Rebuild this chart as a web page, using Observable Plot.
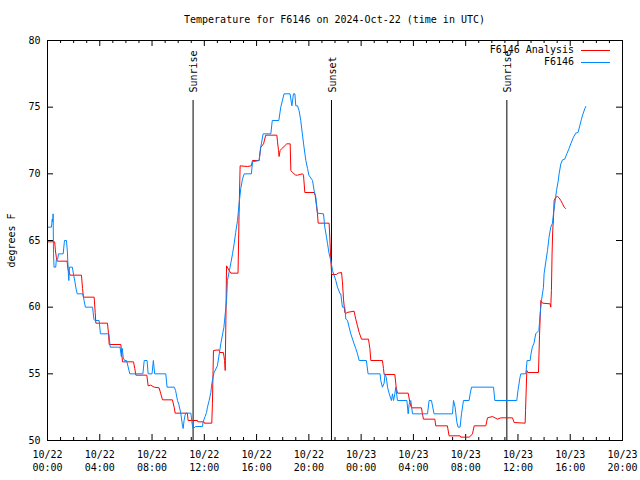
<!DOCTYPE html>
<html>
<head>
<meta charset="utf-8">
<script src="https://cdn.jsdelivr.net/npm/d3@7"></script>
<script src="https://cdn.jsdelivr.net/npm/@observablehq/plot@0.6"></script>
<style>
  body { margin: 0; background: white; }
  #wrap { position: relative; width: 640px; height: 480px; background: white; font-family: "DejaVu Sans Mono", monospace; }
  #title { height: 34px; margin-left: 47px; width: 575px; text-align: center; font-size: 10px; line-height: 12px; padding-top: 0; box-sizing: border-box; }
  #title span { position: relative; top: 14px; }
  #wrap svg { display: block; }
  .lg-text { position: absolute; right: 66px; font-size: 10px; line-height: 12px; white-space: pre; }
  .lg-line { position: absolute; left: 581px; width: 29px; height: 0; }
</style>
</head>
<body>
<div id="wrap">
  <div id="title"><span>Temperature for F6146 on 2024-Oct-22 (time in UTC)</span></div>
</div>
<script>
// ---- data (hours since 2024-10-22 00:00 UTC) ----
const obsHours = [0,0.3,0.36,0.4,0.43,0.46,0.5,0.63,0.68,0.78,0.84,1.2,1.3,1.45,1.52,1.58,1.63,1.68,1.9,2.0,2.1,2.2,2.28,2.7,2.8,2.9,3.45,3.55,3.62,3.95,4.05,4.7,4.8,5.55,5.65,5.72,5.8,5.9,6.05,6.3,7.3,7.4,7.62,7.7,8.0,8.1,8.2,9.05,9.15,9.7,9.8,9.95,10.05,10.2,10.33,10.38,10.45,10.53,10.58,10.97,11.05,11.1,11.14,11.35,11.86,11.91,12.06,12.17,12.24,12.37,12.5,12.57,12.67,12.75,13.0,13.26,13.5,13.7,13.77,13.97,14.16,14.28,14.4,14.54,14.66,14.79,14.92,15.05,15.6,15.69,16.2,16.3,16.5,17.09,17.2,17.7,17.85,18.1,18.56,18.7,18.82,18.93,19.0,19.13,19.25,19.38,19.5,19.63,19.77,19.9,20.0,20.28,20.4,20.53,20.66,21.12,21.22,21.35,21.43,21.55,21.68,21.81,21.93,22.06,22.19,22.39,22.44,22.57,22.75,22.83,22.96,23.08,23.21,23.46,23.59,23.72,23.85,24.4,24.53,25.45,25.5,25.63,25.76,25.83,25.93,26.02,26.15,26.32,26.4,26.48,26.58,26.65,26.78,27.5,27.6,27.67,27.8,27.93,29.08,29.2,29.38,29.58,30.99,31.07,31.19,31.32,31.42,31.57,31.68,31.83,32.26,32.34,32.45,34.13,34.23,35.91,36.0,36.16,36.22,36.6,36.7,36.93,37.0,37.1,37.23,37.36,37.6,37.7,37.8,37.95,38.0,38.13,38.26,38.38,38.51,38.64,38.72,38.82,38.95,39.07,39.15,39.28,39.41,39.58,39.74,39.91,40.04,40.25,40.42,40.6,40.73,40.86,40.98,41.12,41.19];
const obsTemp = [66.0,66.0,66.6,66.4,67.0,64.0,63.0,63.0,63.6,63.6,64.0,64.0,65.0,65.0,64.2,62.8,62.0,63.0,63.0,62.4,61.9,61.3,61.0,61.0,60.5,60.0,60.0,59.1,59.0,59.0,58.0,58.0,57.0,57.0,56.3,56.9,56.2,56.0,56.0,55.0,55.0,56.0,56.0,55.0,55.0,56.0,55.0,55.0,54.0,54.0,53.75,53.0,52.7,52.05,51.1,50.9,51.5,51.9,52.05,52.05,51.4,51.05,50.9,51.05,51.05,51.4,51.8,52.1,52.5,53.0,53.6,54.25,54.75,55.1,55.6,57.25,58.5,60.5,62.0,63.0,64.0,64.75,65.6,66.5,67.75,68.9,69.6,70.0,70.0,70.9,71.0,71.9,73.0,73.0,74.0,74.0,75.0,76.0,76.0,75.1,76.0,76.0,75.1,75.1,74.75,74.0,73.0,72.0,71.0,70.4,69.9,69.5,68.75,68.25,67.05,67.0,66.0,65.25,64.75,64.0,63.5,62.75,62.4,62.0,61.5,61.0,61.0,60.0,60.0,59.1,59.0,58.5,58.0,57.25,56.9,56.5,56.0,56.0,55.0,55.0,54.5,54.0,54.3,55.0,54.7,54.0,53.5,53.0,53.5,53.0,53.5,54.0,53.0,53.0,52.0,52.7,53.0,52.0,52.0,53.0,53.0,52.0,52.0,53.0,52.5,51.4,51.0,51.0,52.0,53.0,53.0,53.5,54.0,54.0,53.0,53.0,53.75,54.75,55.0,55.0,56.0,56.0,56.5,57.0,57.3,58.0,58.25,59.5,60.5,61.5,62.5,63.4,64.25,65.25,66.0,66.3,67.05,67.75,68.75,69.4,70.0,70.75,71.05,71.1,71.5,71.9,72.25,72.75,73.05,73.1,73.6,74.1,74.5,74.9,75.05];

const anaHours = [0,0.55,0.6,0.68,0.75,1.5,1.56,1.66,1.73,2.6,2.68,2.75,3.57,3.65,3.7,4.59,4.67,4.72,5.61,5.74,6.58,6.68,6.76,7.6,7.7,7.9,8.16,8.54,8.67,8.8,9.56,9.69,9.77,10.7,10.76,11.48,11.5,11.98,12.0,12.57,12.62,12.67,12.7,13.1,13.2,13.46,13.55,13.6,13.65,13.7,13.9,14.03,14.58,14.66,14.74,15.3,15.6,15.69,16.19,16.32,16.53,16.7,17.55,17.6,17.68,17.72,17.8,17.93,18.1,18.31,18.57,18.62,18.75,19.0,19.13,19.51,19.59,19.69,20.4,20.48,20.66,20.71,21.55,21.6,21.68,21.75,22.1,22.24,22.5,22.57,22.65,22.75,22.83,22.9,23.46,23.59,23.72,23.85,24.03,24.56,24.67,24.74,25.63,25.71,25.76,26.58,26.68,26.78,27.6,27.72,27.85,28.62,28.69,28.77,29.64,29.71,30.6,30.73,31.57,31.63,32.26,32.39,32.52,32.65,33.54,33.67,34.05,34.43,34.69,35.58,35.71,36.55,36.58,36.68,36.75,37.57,37.65,37.75,37.88,38.46,38.51,38.56,38.61,38.66,38.72,38.77,38.9,39.03,39.15,39.28,39.41,39.54,39.64];
const anaTemp = [64.9,64.9,64.3,63.7,63.45,63.45,62.9,62.6,62.4,62.4,61.4,60.75,60.75,59.6,58.8,58.8,58.0,57.2,57.2,55.9,55.9,55.4,54.9,54.9,54.1,54.15,54.0,53.95,53.5,53.05,53.05,52.5,52.05,52.05,51.5,51.5,51.4,51.4,51.3,51.3,52.75,55.25,56.75,56.8,56.6,56.6,56.0,55.25,59.0,63.1,62.75,62.55,62.55,67.1,70.6,70.55,70.6,71.0,71.0,72.0,72.25,72.9,72.9,72.4,71.75,71.3,71.75,71.9,72.05,72.25,72.25,70.25,70.1,69.9,69.9,70.0,69.9,68.6,68.6,68.4,67.0,66.3,66.3,65.25,63.5,62.45,62.45,62.55,62.6,61.9,60.6,59.6,59.5,59.6,59.7,59.1,58.6,58.1,57.6,57.6,56.9,56.0,56.0,55.4,54.95,54.95,54.0,53.55,53.55,52.9,52.45,52.45,52.0,51.6,51.6,51.1,51.1,50.35,50.35,50.25,50.25,50.35,50.5,51.1,51.1,51.7,51.8,51.6,51.7,51.7,51.35,51.3,52.25,55.25,55.1,55.1,57.9,60.5,60.3,60.25,60.0,61.25,64.0,65.75,66.7,68.0,68.25,68.3,68.2,68.0,67.75,67.5,67.4];

const sunHours = [11.14, 21.73, 35.15];
const sunLabels = ["Sunrise", "Sunset", "Sunrise"];

const xTickHours = [0, 4, 8, 12, 16, 20, 24, 28, 32, 36, 40, 44];
const xMinorHours = d3.range(0, 45).filter(h => h % 4 !== 0);
const yTicks = [50, 55, 60, 65, 70, 75, 80];

const seriesNames = ["F6146 Analysis", "F6146"];
const seriesColors = ["#ff0000", "#0088ff"];

// ---- build ----
const start = Date.UTC(2024, 9, 22);
const T = h => new Date(start + h * 3600e3);
const obs = obsHours.map((h, i) => ({t: T(h), v: obsTemp[i]}));
const ana = anaHours.map((h, i) => ({t: T(h), v: anaTemp[i]}));
const sun = sunHours.map((h, i) => ({t: T(h), label: sunLabels[i]}));
const xTicks = xTickHours.map(T);
const xMinor = xMinorHours.map(T);

const innerW = 640 - 47 - 18;
const innerH = 446 - 6 - 40;

const chart = Plot.plot({
  width: 640,
  height: 446,
  marginTop: 6,
  marginBottom: 40,
  marginLeft: 47,
  marginRight: 18,
  style: {fontFamily: "DejaVu Sans Mono", fontSize: "10px", background: "white", color: "black"},
  x: {type: "utc", domain: [T(0), T(44)]},
  y: {domain: [50, 80]},
  marks: [
    // inward ticks on all four sides
    Plot.tickX(xTicks, {x: d => d, insetTop: innerH - 6, stroke: "black"}),
    Plot.tickX(xTicks, {x: d => d, insetBottom: innerH - 6, stroke: "black"}),
    Plot.tickX(xMinor, {x: d => d, insetTop: innerH - 3, stroke: "black"}),
    Plot.tickX(xMinor, {x: d => d, insetBottom: innerH - 3, stroke: "black"}),
    Plot.tickY(yTicks, {y: d => d, insetRight: innerW - 6, stroke: "black"}),
    Plot.tickY(yTicks, {y: d => d, insetLeft: innerW - 6, stroke: "black"}),
    Plot.axisX({ticks: xTicks, tickSize: 0, tickPadding: 8, label: null, lineHeight: 1.3,
      tickFormat: d3.utcFormat("%m/%d\n%H:%M")}),
    Plot.axisY({ticks: yTicks, tickSize: 0, tickPadding: 7, label: null}),
    Plot.text(["degrees F"], {text: d => d, frameAnchor: "left", dx: -36, dy: 0, rotate: -90,
      textAnchor: "middle", lineAnchor: "middle"}),
    // sunrise / sunset
    Plot.ruleX(sun, {x: "t", y1: 75.5, y2: 50, stroke: "black"}),
    Plot.text(sun, {x: "t", text: "label", frameAnchor: "top", dy: 52, dx: 1, rotate: -90,
      textAnchor: "start", lineAnchor: "middle"}),
    // series
    Plot.line(ana, {x: "t", y: "v", stroke: seriesColors[0], strokeWidth: 1}),
    Plot.line(obs, {x: "t", y: "v", stroke: seriesColors[1], strokeWidth: 1}),
    Plot.frame({stroke: "black"})
  ]
});
const wrap = document.getElementById("wrap");
wrap.appendChild(chart);

// legend (inside plot, top right)
seriesNames.forEach((name, i) => {
  const t = document.createElement("div");
  t.className = "lg-text";
  t.style.top = (44 + i * 12) + "px";
  t.textContent = name;
  wrap.appendChild(t);
  const l = document.createElement("div");
  l.className = "lg-line";
  l.style.top = (50 + i * 12) + "px";
  l.style.borderTop = "1px solid " + seriesColors[i];
  wrap.appendChild(l);
});
</script>
</body>
</html>
